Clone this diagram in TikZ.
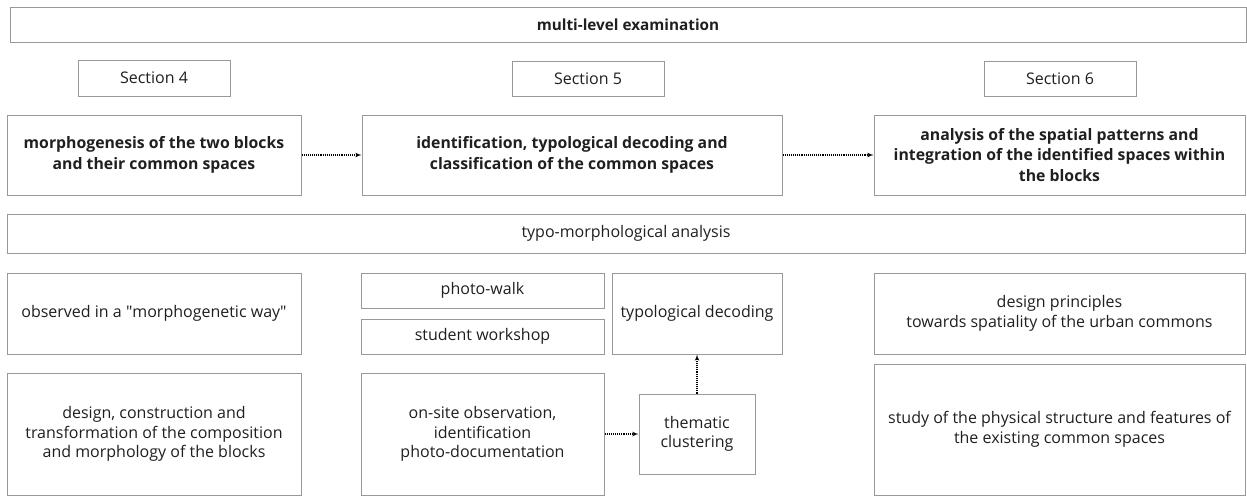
\documentclass[tikz,border=0pt]{standalone}
\usepackage{fontspec}
\setmainfont{Open Sans}
\usetikzlibrary{shapes,arrows}
\definecolor{boxline}{gray}{0.6}
\definecolor{boxtext}{gray}{0.12}
\tikzstyle{block} = [rectangle, draw=boxline, line width=1pt, inner sep=0pt,
    text=boxtext, align=center, font=\fontsize{16}{19.5}\selectfont]
\tikzstyle{head} = [block, font=\fontsize{15.8}{20.5}\selectfont\bfseries]
\tikzstyle{line} = [draw, densely dotted, line width=1.1pt, -latex']

\begin{document}
\begin{tikzpicture}[x=1pt, y=-1pt]
	\useasboundingbox (0,0) rectangle (1247,496);

	\node [head, font=\fontsize{15.3}{19}\selectfont\bfseries, minimum width=1236, minimum height=35] (exam) at (628,24.5) {multi-level examination};

	\node [block, minimum width=152, minimum height=36] (sec4) at (154,78) {Section 4};
	\node [block, minimum width=152, minimum height=35] (sec5) at (588,78.5) {Section 5};
	\node [block, minimum width=152, minimum height=35] (sec6) at (1060,78.5) {Section 6};

	\node [head, minimum width=294, minimum height=80] (morpho) at (154,155) {morphogenesis of the two blocks\\and their common spaces};
	\node [head, minimum width=420, minimum height=80] (ident) at (572,155) {identification, typological decoding and\\classification of the common spaces};
	\node [head, minimum width=371, minimum height=80] (spatial) at (1059.5,155) {analysis of the spatial patterns and\\integration of the identified spaces within\\the blocks};

	\path [line] (morpho) -- (ident);
	\path [line] (ident) -- (spatial);

	\node [block, minimum width=1238, minimum height=39] (typo) at (626,233.5) {typo-morphological analysis};

	% section 4 column
	\node [block, minimum width=294, minimum height=81] (observed) at (154,313.5) {observed in a \textquotedbl morphogenetic way\textquotedbl};
	\node [block, minimum width=294, minimum height=122] (design) at (154,434) {design, construction and\\transformation of the composition\\and morphology of the blocks};

	% section 5 column
	\node [block, minimum width=243, minimum height=35] (walk) at (482.5,290.5) {photo-walk};
	\node [block, minimum width=243, minimum height=35] (workshop) at (482.5,336.5) {student workshop};
	\node [block, minimum width=170, minimum height=81] (decoding) at (697,313.5) {typological decoding};
	\node [block, minimum width=243, minimum height=122] (onsite) at (482.5,434) {on-site observation,\\identification\\photo-documentation};
	\node [block, minimum width=116, minimum height=80] (cluster) at (697,434) {thematic\\clustering};

	\path [line] (onsite) -- (cluster);
	\path [line] (cluster) -- (decoding);

	% section 6 column
	\node [block, minimum width=371, minimum height=81] (principles) at (1059.5,313.5) {design principles\\towards spatiality of the urban commons};
	\node [block, minimum width=371, minimum height=131] (study) at (1059.5,429.5) {study of the physical structure and features of\\the existing common spaces};
\end{tikzpicture}
\end{document}
